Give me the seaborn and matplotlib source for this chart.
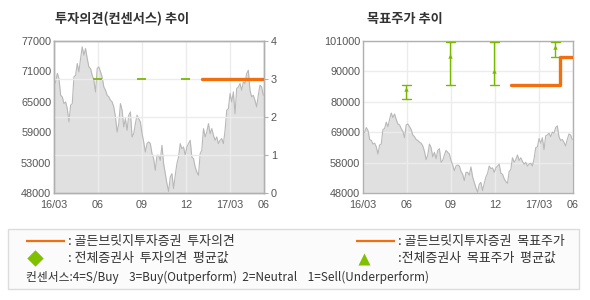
import numpy as np
import pandas as pd
import matplotlib
matplotlib.use("Agg")
import matplotlib.pyplot as plt
import seaborn as sns
from matplotlib.patches import Rectangle

# ---------------- data ----------------
price = [
    68600, 69240, 70830, 69800, 66650, 66330, 65060, 65380, 64100, 61560,
    64740, 65060, 70150, 70470, 72700, 71110, 73650, 75880, 74290, 75560,
    73650, 72060, 71740, 70470, 69510, 67290, 71740, 72060, 71110, 70150,
    68240, 67610, 66650, 66330, 65700, 65380, 64420, 62510, 59650, 61240,
    65060, 63790, 60610, 62200, 59970, 62830, 63470, 58700, 59330, 61240,
    62830, 62200, 61560, 59330, 57740, 55830, 57420, 57740, 57420, 55510,
    54550, 52330, 55190,
    55190, 54230, 57100, 53600, 51690, 49790, 48300, 51060, 51690, 48830,
    51380, 53600, 54870, 57420, 56470, 56780, 55190, 56780, 57420, 58060,
    54870, 54550, 52960, 52010, 51380, 55510, 56150, 60290, 58700, 59650,
    61240, 59330, 60290, 59020, 58060, 58700, 57420, 58060, 58380, 57420,
    59970, 63790, 64100, 66970, 65380, 67290, 63150, 67930, 68240, 68880,
    67610, 69200, 68880, 70790, 71420, 67610, 66330, 66650, 65700, 64420,
    66650, 68560, 68240, 66650,
]
x_start, x_end = 0.0, 14.25          # months since 2016/03 spanned by the price series
x_ticks = [0, 3, 6, 9, 12, 14.3]
x_labels = ["16/03", "06", "09", "12", "17/03", "06"]

left_ylabels = ["48000", "53000", "59000", "65000", "71000", "77000"]
right_ylabels = ["48000", "58000", "69000", "80000", "90000", "101000"]

# Golden Bridge opinion (orange)
gb_op_x = [10.07, 14.25]
gb_op_y = [3, 3]
# Golden Bridge target price (orange, step)
gb_tp_x = [10.07, 13.4, 14.2]
gb_tp_y = [85500, 95500, 95500]

# consensus (green)
cons_x = [2.95, 5.95, 8.95, 13.1]
cons_op = [3, 3, 3, 3]
cons_tp_mean = [84300, 95700, 90700, 98900]
cons_tp_min = [80900, 85800, 85800, 95400]
cons_tp_max = [85800, 100700, 100700, 100700]

# ---------------- style ----------------
sns.set_theme(style="white")
plt.rcParams["font.family"] = ["Liberation Sans", "Noto Sans CJK KR", "DejaVu Sans"]
KR = ["Noto Sans CJK KR", "DejaVu Sans"]

ORANGE = "#f26f0f"
GREEN = "#7ab800"
FILL = "#e0e0e0"
PLINE = "#b8b8b8"
GRID = "#ececec"
SPINE = "#b0b0b0"
TICKC = "#555555"

W, H = 590, 300
fig = plt.figure(figsize=(W / 100, H / 100), dpi=100)
fig.patch.set_facecolor("white")

def px_axes(x0, y0, x1, y1):
    return fig.add_axes([x0 / W, 1 - y1 / H, (x1 - x0) / W, (y1 - y0) / H])

px = np.linspace(x_start, x_end, len(price))
df = pd.DataFrame({"m": px, "price": price})

def style_axes(ax):
    for s in ax.spines.values():
        s.set_color(SPINE)
        s.set_linewidth(1.0)
    ax.tick_params(axis="both", colors=SPINE, labelcolor=TICKC, labelsize=7.8,
                   length=3, width=0.8, pad=2)
    ax.tick_params(axis="y", length=0)

def draw_price(ax, ylo, yhi):
    ax.fill_between(df["m"], ylo, df["price"], color=FILL, linewidth=0, zorder=1)
    sns.lineplot(data=df, x="m", y="price", ax=ax, color=PLINE, linewidth=0.8,
                 zorder=2, legend=False)
    ax.set_xlim(0, 14.3)
    ax.set_ylim(ylo, yhi)
    ax.set_xticks(x_ticks)
    ax.set_xticklabels(x_labels)
    ax.set_xlabel("")
    ax.set_ylabel("")

# ---------------- left chart ----------------
axL = px_axes(54, 41, 264, 193)
draw_price(axL, 48000, 77000)
axL.set_yticks(np.linspace(48000, 77000, 6))
axL.set_yticklabels(left_ylabels)
axL.set_axisbelow("line")
axL.grid(axis="x", color=GRID, linewidth=1.0)
style_axes(axL)

axR = axL.twinx()
axR.set_ylim(0, 4)
axR.set_yticks([0, 1, 2, 3, 4])
axR.set_yticklabels(["0", "1", "2", "3", "4"])
axR.grid(axis="y", color=GRID, linewidth=1.0, zorder=1.5)
axR.set_axisbelow(True)
style_axes(axR)
axR.tick_params(axis="y", length=3)
# consensus opinion (green short dashes) and Golden Bridge opinion (orange)
for cx, cy in zip(cons_x, cons_op):
    axR.plot([cx - 0.31, cx + 0.31], [cy, cy], color=GREEN, linewidth=1.3, zorder=3,
             solid_capstyle="butt")
op_df = pd.DataFrame({"m": gb_op_x, "v": gb_op_y})
sns.lineplot(data=op_df, x="m", y="v", ax=axR, color=ORANGE, linewidth=2.4, zorder=4,
             legend=False)
axR.set_xlabel("")
axR.set_ylabel("")
axR.set_xlim(0, 14.3)
axR.set_ylim(0, 4)

fig.text(55 / W, 1 - 19 / H, "투자의견(컨센서스) 추이", family=KR, fontsize=9.5,
         fontweight="bold", color="#333333", va="center", ha="left")

# ---------------- right chart ----------------
axT = px_axes(363, 41, 573, 193)
draw_price(axT, 48000, 101000)
axT.set_yticks(np.linspace(48000, 101000, 6))
axT.set_yticklabels(right_ylabels)
axT.set_axisbelow("line")
axT.grid(True, color=GRID, linewidth=1.0)
style_axes(axT)

axT.vlines(cons_x, cons_tp_min, cons_tp_max, color=GREEN, linewidth=1.0, zorder=3)
for cx, lo, hi in zip(cons_x, cons_tp_min, cons_tp_max):
    axT.plot([cx - 0.3, cx + 0.3], [lo, lo], color=GREEN, linewidth=1.0, zorder=3)
    axT.plot([cx - 0.3, cx + 0.3], [hi, hi], color=GREEN, linewidth=1.0, zorder=3)
axT.scatter(cons_x, cons_tp_mean, marker="^", s=10, color=GREEN, zorder=4, linewidths=0)
axT.plot(gb_tp_x, gb_tp_y, drawstyle="steps-post", color=ORANGE, linewidth=2.4, zorder=5)
axT.set_xlim(0, 14.3)
axT.set_ylim(48000, 101000)

fig.text(367 / W, 1 - 19 / H, "목표주가 추이", family=KR, fontsize=9.5,
         fontweight="bold", color="#333333", va="center", ha="left")

# ---------------- legend box ----------------
lg = fig.add_axes([0, 0, 1, 1])
lg.set_xlim(0, W)
lg.set_ylim(H, 0)
lg.axis("off")
lg.patch.set_alpha(0)
lg.add_patch(Rectangle((7.5, 228.5), 571, 60, facecolor="#fbfbfb", edgecolor="#dcdcdc",
                       linewidth=1.0))
TXT = "#333333"
FS = 9.3
lg.plot([26, 65], [241, 241], color=ORANGE, linewidth=1.6, solid_capstyle="butt")
lg.text(68, 241, ": 골든브릿지투자증권  투자의견", family=KR, fontsize=FS, color=TXT,
        va="center", ha="left")
lg.plot([356, 395], [241, 241], color=ORANGE, linewidth=1.6, solid_capstyle="butt")
lg.text(398, 241, ": 골든브릿지투자증권  목표주가", family=KR, fontsize=FS, color=TXT,
        va="center", ha="left")
lg.scatter([35], [258], marker="D", s=70, color="#80c000", linewidths=0)
lg.text(68, 258, ": 전체증권사  투자의견  평균값", family=KR, fontsize=FS, color=TXT,
        va="center", ha="left")
lg.scatter([363.5], [259], marker="^", s=75, color="#80c000", linewidths=0)
lg.text(398, 258, ":전체증권사  목표주가  평균값", family=KR, fontsize=FS, color=TXT,
        va="center", ha="left")
lg.text(26, 277, "컨센서스:4=S/Buy    3=Buy(Outperform)  2=Neutral    1=Sell(Underperform)",
        family=KR, fontsize=8.5, color=TXT, va="center", ha="left")

fig.savefig("out.png", dpi=100, facecolor="white")
